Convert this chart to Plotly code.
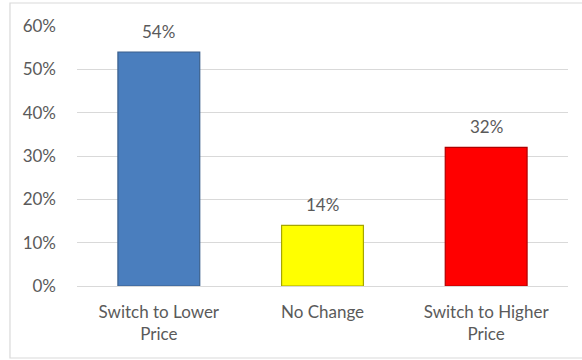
import plotly.graph_objects as go

# Share of respondents by price-switch outcome
categories = ["Switch to Lower<br>Price", "No Change", "Switch to Higher<br>Price"]
shares = [54, 14, 32]
bar_colors = ["#4A7EBE", "#FFFF00", "#FF0000"]
edge_colors = ["#3A5F8C", "#A6A600", "#B00000"]
y_ticks = [0, 10, 20, 30, 40, 50, 60]
y_tick_labels = ["0%", "10%", "20%", "30%", "40%", "50%", "60%"]

FONT = "Lato, 'Open Sans', sans-serif"
TEXT_GREY = "#5A5A5A"
GRID_GREY = "#D9D9D9"
FS = 17

fig = go.Figure(
    go.Bar(
        x=categories,
        y=shares,
        marker=dict(color=bar_colors, line=dict(color=edge_colors, width=1.2)),
        width=0.5,
        hoverinfo="skip",
    )
)

# value labels above each bar
for cat, val in zip(categories, shares):
    fig.add_annotation(
        x=cat, y=val, text=f"{val}%", showarrow=False,
        yanchor="bottom", yshift=8,
        font=dict(family=FONT, size=FS, color=TEXT_GREY),
    )

# light frame around the chart area
fig.add_shape(
    type="rect", xref="paper", yref="paper",
    x0=-0.1365, x1=1.05, y0=-0.277, y1=1.0885,
    line=dict(color=GRID_GREY, width=1.2), fillcolor="rgba(0,0,0,0)",
    layer="below",
)

fig.update_layout(
    width=582, height=360,
    margin=dict(l=77, r=14, t=26, b=74),
    paper_bgcolor="white", plot_bgcolor="white",
    showlegend=False,
    font=dict(family=FONT, size=FS, color=TEXT_GREY),
    xaxis=dict(
        showgrid=False, showline=True, linecolor=GRID_GREY, linewidth=1.2,
        ticks="", ticklabelstandoff=10,
        tickfont=dict(family=FONT, size=FS, color=TEXT_GREY),
    ),
    yaxis=dict(
        range=[0, 60], tickvals=y_ticks, ticktext=y_tick_labels,
        showgrid=True, gridcolor=GRID_GREY, gridwidth=1.2,
        zeroline=False, showline=False, ticks="", ticklabelstandoff=20,
        tickfont=dict(family=FONT, size=FS, color=TEXT_GREY),
    ),
)

fig.write_html("out.html")
